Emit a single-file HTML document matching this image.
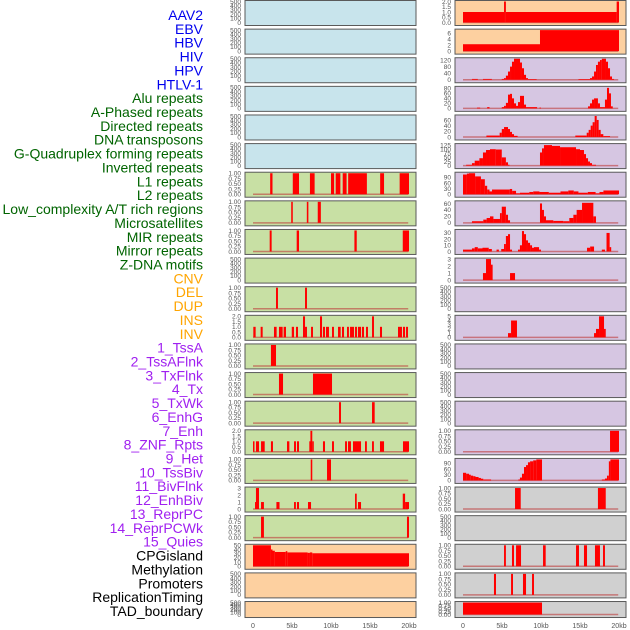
<!DOCTYPE html>
<html><head><meta charset="utf-8"><style>
html,body{margin:0;padding:0;background:#fff;}
svg{display:block;font-family:"Liberation Sans",sans-serif;}
</style></head><body>
<svg id="chart" width="630" height="630" viewBox="0 0 630 630"></svg>
<script>
const labels = ["AAV2","EBV","HBV","HIV","HPV","HTLV-1","Alu repeats","A-Phased repeats","Directed repeats","DNA transposons","G-Quadruplex forming repeats","Inverted repeats","L1 repeats","L2 repeats","Low_complexity A/T rich regions","Microsatellites","MIR repeats","Mirror repeats","Z-DNA motifs","CNV","DEL","DUP","INS","INV","1_TssA","2_TssAFlnk","3_TxFlnk","4_Tx","5_TxWk","6_EnhG","7_Enh","8_ZNF_Rpts","9_Het","10_TssBiv","11_BivFlnk","12_EnhBiv","13_ReprPC","14_ReprPCWk","15_Quies","CPGisland","Methylation","Promoters","ReplicationTiming","TAD_boundary"];
const labelGroupSizes = [6,13,5,15,5];
const labelGroupColors = ["#0000ee","#006400","#ffa500","#a020f0","#000000"];
const xTickValues = [0,5,10,15,20];
const xTickLabels = ["0","5kb","10kb","15kb","20kb"];
const T500 = [0,100,200,300,400,500];
const T1 = [0,0.25,0.5,0.75,1];
const T2 = [0,0.5,1,1.5,2];
const leftBg = ["#c8e4ec","#c8e4ec","#c8e4ec","#c8e4ec","#c8e4ec","#c8e4ec","#c8e0a4","#c8e0a4","#c8e0a4","#c8e0a4","#c8e0a4","#c8e0a4","#c8e0a4","#c8e0a4","#c8e0a4","#c8e0a4","#c8e0a4","#c8e0a4","#c8e0a4","#fdd0a0","#fdd0a0","#fdd0a0"];
const rightBg = ["#fdd0a0","#fdd0a0","#d6c6e2","#d6c6e2","#d6c6e2","#d6c6e2","#d6c6e2","#d6c6e2","#d6c6e2","#d6c6e2","#d6c6e2","#d6c6e2","#d6c6e2","#d6c6e2","#d6c6e2","#d6c6e2","#d6c6e2","#d0d0d0","#d0d0d0","#d0d0d0","#d0d0d0","#d0d0d0"];
const leftTicks = [T500,T500,T500,T500,T500,T500,T1,T1,T1,T500,T1,T2,T1,T1,T1,T2,T1,[0,1,2,3],T1,[0,10,20,30,40,50],T500,T500];
const leftMax = [500,500,500,500,500,500,1,1,1,500,1,2,1,1,1,2,1,3,1,50,500,500];
const rightTicks = [T2,[0,2,4,6],[0,40,80,120],[0,20,40,60,80],[0,20,40,60],[0,25,50,75,100,125],[0,30,60,90],[0,20,40,60],[0,10,20,30],[0,1,2,3],T500,[0,1,2,3,4,5],T500,T500,T500,T1,[0,30,60,90],T1,T500,T1,T1,T1];
const rightMax = [2,7,128,84,74,128,112,65,34,3,500,5,500,500,500,1,110,1,500,1,1,1];
// segments: [start kb, end kb, value]
const leftSegments = [[],[],[],[],[],[],
[[2.2,2.5,1],[5.1,5.9,1],[7.3,7.9,1],[10.0,10.4,1],[10.6,11.2,1],[11.5,12.0,1],[12.2,14.6,1],[16.3,16.8,1],[18.8,20.0,1]],
[[4.9,5.1,1],[6.9,7.1,1],[8.3,8.7,1]],
[[2.14,2.39,1],[5.6,5.9,1],[13.0,13.3,1],[19.2,20.0,1]],
[],
[[2.95,3.2,1],[6.67,6.92,1]],
[[0.04,0.34,1],[0.98,1.24,1],[2.69,3.03,1],[3.33,3.8,1],[3.93,4.23,1],[4.97,5.26,1],[5.51,5.77,1],[6.41,6.67,2],[6.67,6.92,1],[7.44,7.69,1],[8.59,8.85,2],[8.97,9.23,1],[9.36,9.74,1],[10.13,10.38,1],[10.9,11.24,1],[11.41,11.67,1],[12.05,12.3,1],[12.44,12.95,1],[13.08,13.33,1],[13.46,13.85,1],[13.97,14.23,1],[14.49,14.74,1],[15.26,15.51,2],[16.28,16.54,1],[18.59,19.1,1],[19.23,19.49,1],[19.62,19.87,1]],
[[2.3,2.95,1]],
[[3.33,3.85,1],[7.69,10.13,1]],
[[11.03,11.28,1],[15.26,15.6,1]],
[[0,0.15,1],[0.38,0.77,1],[1.03,1.5,1],[2.3,2.56,1],[4.36,4.66,1],[5.26,5.51,1],[5.64,5.9,1],[7.22,7.36,1],[7.36,7.6,2],[7.6,7.69,1],[8.97,9.23,1],[10.13,10.38,1],[11.8,12.05,1],[12.18,12.56,1],[12.82,13.85,1],[14.36,14.6,1],[15.26,15.5,1],[16.28,16.8,1],[19.23,20.0,1]],
[[7.4,7.6,1],[9.49,10.0,1]],
[[0.26,0.38,1],[0.38,0.77,3],[1.03,1.4,1],[3.0,3.4,1],[5.26,5.5,1],[5.64,5.9,1],[7.05,7.44,1],[13.08,13.3,2.2],[13.46,13.85,1],[19.2,19.5,2.2],[19.5,20.0,1]],
[[1.03,1.4,1],[19.74,20.0,1]],
[[0,2.3,50],[2.3,2.5,40],[2.5,2.8,37],[2.8,4.2,34],[4.2,4.4,36],[4.4,7.0,33],[7.0,7.3,32],[7.3,7.6,33],[7.6,20,31]],
[],[]];
const rightSegments = [
[[0,5.26,1],[5.26,5.5,2],[5.5,19.7,1],[19.7,20,2]],
[[0,9.87,2.3],[9.87,20,7]],
[[1.15,1.9,5],[2.56,3.7,5],[4.97,5.26,5],[5.26,5.5,10],[5.5,5.77,25],[5.77,6.03,50],[6.03,6.28,80],[6.28,6.54,110],[6.54,7.31,128],[7.31,7.56,105],[7.56,7.82,70],[7.82,8.08,30],[8.08,8.33,10],[8.33,9.44,4],[14.8,16.28,4],[16.28,16.54,10],[16.54,16.8,20],[16.8,17.05,50],[17.05,17.3,90],[17.3,17.56,110],[17.56,17.8,120],[17.8,18.33,128],[18.33,18.59,110],[18.59,18.85,70],[18.85,19.1,20],[19.1,19.36,5]],
[[1.8,2.2,3],[3.1,3.4,5],[4.97,5.26,5],[5.26,5.5,10],[5.5,5.77,22],[5.77,6.03,55],[6.03,6.28,58],[6.28,6.54,40],[6.54,6.8,20],[6.8,7.05,10],[7.05,7.31,25],[7.31,7.82,50],[7.82,8.08,15],[8.08,9.5,5],[9.8,10.0,3],[16.03,16.28,8],[16.28,16.54,20],[16.54,16.8,35],[16.8,17.3,40],[17.3,17.56,20],[17.56,18.2,5],[18.2,18.46,35],[18.46,18.72,82],[18.72,18.97,60],[18.97,19.2,8]],
[[3.0,4.7,5],[4.7,4.97,15],[4.97,5.26,28],[5.26,5.77,35],[5.77,6.03,28],[6.03,6.28,18],[6.28,6.54,10],[6.54,7.0,4],[14.4,15.86,5],[15.86,16.11,15],[16.11,16.37,25],[16.37,16.62,40],[16.62,16.88,52],[16.88,17.14,74],[17.14,17.39,60],[17.39,17.65,25],[17.65,17.99,10],[17.99,18.85,3]],
[[0.4,1.15,5],[1.15,1.5,15],[1.5,2.1,30],[2.1,2.56,45],[2.56,2.95,80],[2.95,3.46,95],[3.46,4.2,100],[4.2,4.97,98],[4.97,5.5,50],[5.5,5.77,20],[5.77,5.9,5],[9.87,10.13,80],[10.13,10.38,105],[10.38,11.41,125],[11.41,12.44,120],[12.44,14.49,112],[14.49,15.0,100],[15.0,15.51,95],[15.51,15.77,70],[15.77,16.03,45],[16.03,16.28,25],[16.28,16.54,15],[16.54,17.05,5]],
[[0,0.5,105],[0.5,0.77,110],[0.77,1.55,112],[1.55,2.3,95],[2.3,2.8,80],[2.8,3.1,45],[3.1,3.4,25],[3.4,3.72,15],[3.72,6.0,25],[6.0,6.3,28],[6.3,6.8,18],[6.8,7.3,5],[7.3,8.5,8],[8.5,9.0,12],[9.0,9.8,15],[9.8,11.0,12],[11.0,12.5,8],[12.5,13.5,15],[13.5,14.2,20],[14.2,14.8,15],[14.8,16.0,8],[16.0,17.0,12],[17.0,17.5,5],[17.5,18.0,12],[18.0,20.0,20]],
[[1.15,2.6,5],[2.6,3.03,10],[3.03,3.46,15],[3.46,3.9,20],[3.9,4.74,12],[4.74,4.97,30],[4.97,5.5,50],[5.5,5.77,25],[5.77,6.03,8],[9.87,10.13,60],[10.13,10.38,40],[10.38,10.64,20],[10.64,11.58,8],[11.58,12.86,6],[12.86,13.63,5],[13.63,14.15,15],[14.15,14.57,25],[14.57,15.26,40],[15.26,16.71,62],[16.71,17.05,20]],
[[0,1.15,3],[1.15,1.5,5],[1.5,1.9,7],[1.9,2.5,5],[2.5,3.3,6],[3.3,3.7,4],[4.3,4.6,3],[4.9,5.26,4],[5.26,5.5,12],[5.5,5.77,25],[5.77,6.03,28],[6.03,6.28,3],[7.05,7.3,3],[7.3,7.56,10],[7.56,7.82,33],[7.82,8.08,28],[8.08,8.33,18],[8.33,8.6,14],[8.6,8.85,10],[8.85,9.1,6],[9.1,9.75,7],[9.75,10.0,3],[15.9,16.3,6],[16.3,16.8,8],[17.8,18.2,3],[18.4,18.8,30],[18.8,19.0,7]],
[[2.56,2.95,1],[2.95,3.59,3],[3.59,3.8,2.2],[6.03,6.67,1]],
[],
[[5.77,6.16,1],[6.16,6.92,4],[16.8,17.05,1],[17.05,17.44,2],[17.44,18.08,5],[18.08,18.3,2]],
[],[],[],
[[18.85,20,1]],
[[0,0.4,40],[0.4,0.77,35],[0.77,1.0,30],[1.0,1.3,25],[1.3,1.6,22],[1.6,2.0,18],[2.0,2.3,13],[2.3,2.6,9],[2.6,3.6,5],[7.1,7.3,5],[7.3,7.56,15],[7.56,7.82,35],[7.82,8.08,70],[8.08,8.33,80],[8.33,8.6,95],[8.6,9.0,100],[9.0,9.4,105],[9.4,10.13,110],[17.8,18.2,5],[18.2,18.46,10],[18.46,18.7,25],[18.7,18.9,100],[18.9,20,110]],
[[6.67,7.4,1],[17.3,18.3,1]],
[],
[[5.26,5.5,1],[6.28,6.54,1],[6.8,7.44,1],[10.26,10.6,1],[14.49,14.87,1],[15.51,15.9,1],[16.92,17.56,1],[17.95,18.2,1]],
[[3.97,4.23,1],[6.16,6.41,1],[7.69,8.08,1],[8.85,9.1,1]],
[[0,10.13,1]]];

const NS = "http://www.w3.org/2000/svg";
const svg = document.getElementById("chart");
function mk(tag, attrs, parent){const e=document.createElementNS(NS,tag);for(const k in attrs)e.setAttribute(k,attrs[k]);(parent||svg).appendChild(e);return e;}

// labels
let li=0;
labelGroupSizes.forEach((n,g)=>{for(let k=0;k<n;k++){const t=mk("text",{x:203,y:20+li*13.86,"text-anchor":"end","font-size":14,fill:labelGroupColors[g]});t.textContent=labels[li];


li++;}});

const ROWS=22;
function rowTop(i){return i*28.62+0.5;}
function rowH(i){return i===ROWS-1?16:25;}
function fmt(v,max){if(max===1)return v.toFixed(2);if(max===2)return v.toFixed(1);return String(v);}

function drawColumn(side, x0, xOrigin, bgs, ticks, maxes, segs){
  const xScale = kb => xOrigin + kb*7.8;
  for(let i=0;i<ROWS;i++){
    const top=rowTop(i), h=rowH(i);
    const g=mk("g",{});
    
    
    const bg=mk("rect",{x:x0,y:top,width:171,height:h,fill:bgs[i],stroke:"#5a5a5a","stroke-width":1},g);
    
    
    const y0=top+h-3, yTop=top+1;
    const yScale = v => y0 - v/maxes[i]*(y0-yTop);
    ticks[i].forEach(v=>{const t=mk("text",{x:x0-4,y:yScale(v)+2.3,"text-anchor":"end","font-size":6.5,fill:"#555"},g);t.textContent=fmt(v,maxes[i]);
      
      });
    if(segs[i].length){
      const bl=mk("line",{x1:xScale(0),x2:xScale(19.9),y1:y0,y2:y0,stroke:"rgba(190,60,60,0.6)","stroke-width":1.5},g);
      
      
    }
    segs[i].forEach(s=>{const ya=yScale(Math.min(s[2],maxes[i]));const r=mk("rect",{x:xScale(s[0]),y:ya,width:Math.max(1.5,xScale(s[1])-xScale(s[0])),height:y0-ya,fill:"#ff0000"},g);
      
      });
  }
  xTickValues.forEach((v,k)=>{const t=mk("text",{x:xScale(v),y:628,"text-anchor":"middle","font-size":7,fill:"#555"});t.textContent=xTickLabels[k];
    
    });
}
drawColumn("left",245,253,leftBg,leftTicks,leftMax,leftSegments);
drawColumn("right",455,463,rightBg,rightTicks,rightMax,rightSegments);
</script>
</body></html>
